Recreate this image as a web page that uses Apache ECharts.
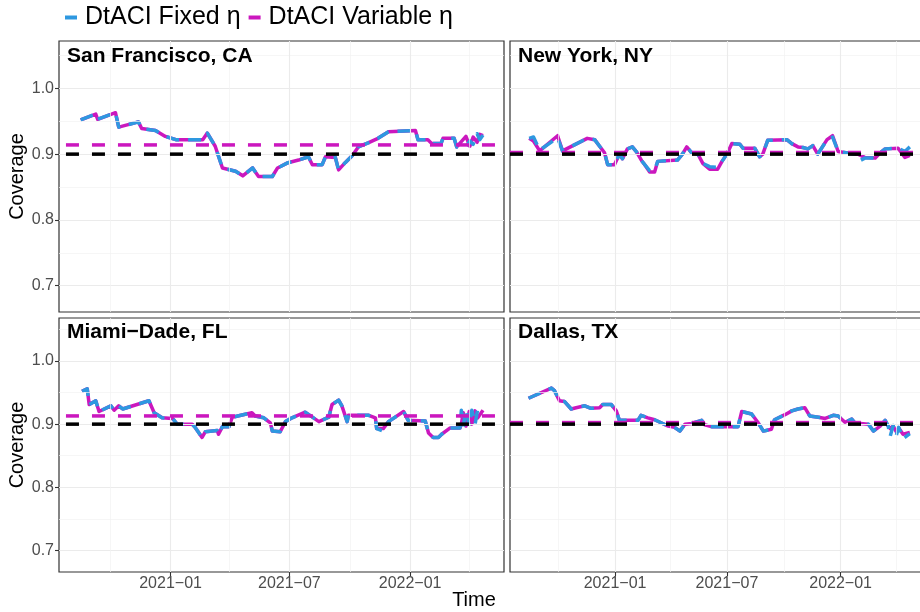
<!DOCTYPE html>
<html>
<head>
<meta charset="utf-8">
<script src="https://cdn.jsdelivr.net/npm/echarts@6/dist/echarts.min.js"></script>
<style>
html, body { margin: 0; padding: 0; background: #fff; }
#main { width: 920px; height: 612px; }
</style>
</head>
<body>
<div id="main"></div>
<script>
// panel data
var sfDates = ['2020-08-17','2020-09-09','2020-09-12','2020-10-09','2020-10-14','2020-11-13','2020-11-18','2020-12-09','2020-12-24','2021-01-09',
  '2021-02-19','2021-02-26','2021-03-10','2021-03-21','2021-04-10','2021-04-21','2021-05-06','2021-05-15','2021-06-05','2021-06-13',
  '2021-06-29','2021-07-15','2021-07-30','2021-08-05','2021-08-20','2021-08-25','2021-09-09','2021-09-14','2021-09-24','2021-10-05',
  '2021-10-14','2021-10-29','2021-11-13','2021-11-29','2022-01-09','2022-01-13','2022-01-28','2022-02-03','2022-02-17','2022-02-20',
  '2022-03-09','2022-03-13','2022-03-27','2022-04-02','2022-04-07','2022-04-13','2022-04-17','2022-04-22'];
var sfFixed = [0.952,0.961,0.953,0.963,0.941,0.949,0.939,0.936,0.927,0.922,
  0.922,0.932,0.912,0.879,0.874,0.867,0.879,0.866,0.866,0.879,
  0.887,0.891,0.896,0.884,0.884,0.896,0.895,0.876,0.887,0.898,
  0.911,0.917,0.924,0.934,0.936,0.922,0.922,0.916,0.916,0.924,
  0.924,0.911,0.911,0.920,0.915,0.931,0.922,0.929];
var sfVariable = [0.952,0.961,0.953,0.963,0.941,0.949,0.939,0.936,0.927,0.922,
  0.922,0.932,0.912,0.879,0.874,0.867,0.879,0.866,0.866,0.879,
  0.887,0.891,0.896,0.884,0.884,0.896,0.895,0.876,0.887,0.898,
  0.911,0.917,0.924,0.934,0.936,0.922,0.922,0.916,0.916,0.924,
  0.924,0.911,0.927,0.912,0.926,0.918,0.930,0.928];

var nyDates = ['2020-08-15','2020-08-22','2020-09-01','2020-09-30','2020-10-08','2020-11-17','2020-11-29','2020-12-07','2020-12-15','2020-12-20',
  '2020-12-31','2021-01-08','2021-01-13','2021-01-21','2021-01-29','2021-02-05','2021-02-13','2021-02-18','2021-02-26','2021-03-06',
  '2021-03-11','2021-04-12','2021-04-20','2021-04-27','2021-05-05','2021-05-15','2021-05-23','2021-06-03','2021-06-16','2021-06-23',
  '2021-07-01','2021-07-09','2021-07-22','2021-07-27','2021-08-15','2021-08-23','2021-08-28','2021-09-05','2021-10-06','2021-10-14',
  '2021-10-24','2021-11-01','2021-11-09','2021-11-17','2021-11-25','2021-12-10','2021-12-19','2021-12-28','2022-01-24','2022-01-29',
  '2022-02-01','2022-02-09','2022-02-26','2022-03-06','2022-03-14','2022-04-04','2022-04-15','2022-04-23'];
var nyFixed = [0.924,0.926,0.906,0.925,0.905,0.924,0.922,0.912,0.902,0.884,
  0.884,0.900,0.893,0.908,0.911,0.903,0.890,0.884,0.875,0.876,
  0.889,0.891,0.900,0.911,0.902,0.900,0.886,0.881,0.880,0.889,
  0.900,0.916,0.915,0.909,0.909,0.896,0.900,0.921,0.922,0.916,
  0.911,0.910,0.908,0.913,0.900,0.922,0.926,0.904,0.900,0.897,
  0.890,0.894,0.894,0.902,0.908,0.909,0.904,0.911];
var nyVariable = [0.924,0.920,0.905,0.928,0.905,0.924,0.922,0.912,0.902,0.884,
  0.884,0.900,0.893,0.908,0.911,0.903,0.890,0.884,0.873,0.873,
  0.889,0.891,0.900,0.911,0.902,0.900,0.886,0.877,0.877,0.889,
  0.900,0.916,0.915,0.909,0.909,0.896,0.900,0.921,0.922,0.916,
  0.911,0.910,0.908,0.913,0.900,0.922,0.928,0.904,0.900,0.900,
  0.900,0.895,0.894,0.902,0.908,0.909,0.895,0.898];

var miDates = ['2020-08-19','2020-08-27','2020-08-30','2020-09-09','2020-09-14','2020-10-02','2020-10-07','2020-10-14','2020-10-20','2020-11-29',
  '2020-12-07','2020-12-19','2021-01-04','2021-01-11','2021-02-03','2021-02-08','2021-02-18','2021-02-23','2021-03-13','2021-03-15',
  '2021-03-21','2021-03-31','2021-04-05','2021-05-05','2021-05-10','2021-05-23','2021-06-02','2021-06-05','2021-06-17','2021-06-25',
  '2021-07-05','2021-07-25','2021-08-15','2021-08-30','2021-09-04','2021-09-14','2021-09-19','2021-09-27','2021-09-29','2021-10-30',
  '2021-11-09','2021-11-11','2021-11-21','2021-11-29','2021-12-22','2021-12-29','2022-01-24','2022-01-29','2022-02-05','2022-02-13',
  '2022-02-18','2022-03-03','2022-03-18','2022-03-20','2022-03-23','2022-03-27','2022-04-01','2022-04-05','2022-04-10','2022-04-14',
  '2022-04-22'];
var miFixed = [0.952,0.956,0.931,0.937,0.920,0.929,0.922,0.929,0.924,0.937,
  0.918,0.910,0.909,0.900,0.900,0.894,0.879,0.888,0.890,0.884,
  0.896,0.896,0.911,0.918,0.913,0.910,0.902,0.889,0.888,0.904,
  0.910,0.919,0.904,0.911,0.931,0.938,0.929,0.904,0.914,0.914,
  0.910,0.893,0.889,0.904,0.920,0.906,0.905,0.886,0.879,0.879,
  0.884,0.894,0.894,0.922,0.896,0.924,0.897,0.922,0.900,0.924,
  0.921];
var miVariable = [0.952,0.956,0.931,0.937,0.920,0.929,0.922,0.929,0.924,0.937,
  0.918,0.910,0.909,0.900,0.900,0.894,0.879,0.888,0.890,0.884,
  0.896,0.896,0.911,0.918,0.913,0.910,0.902,0.889,0.888,0.904,
  0.910,0.919,0.904,0.911,0.931,0.938,0.929,0.904,0.914,0.914,
  0.910,0.893,0.893,0.904,0.920,0.906,0.905,0.886,0.879,0.879,
  0.884,0.894,0.894,0.900,0.918,0.897,0.920,0.900,0.921,0.910,
  0.922];

var dlDates = ['2020-08-14','2020-09-20','2020-09-25','2020-10-03','2020-10-11','2020-10-22','2020-10-30','2020-11-13','2020-11-23','2020-12-07',
  '2020-12-12','2020-12-26','2021-01-03','2021-01-08','2021-02-07','2021-02-12','2021-02-23','2021-03-06','2021-03-28','2021-04-07',
  '2021-04-16','2021-04-24','2021-05-05','2021-05-21','2021-05-26','2021-06-06','2021-07-19','2021-07-25','2021-08-10','2021-08-20',
  '2021-08-29','2021-09-11','2021-09-16','2021-10-03','2021-10-14','2021-10-24','2021-11-04','2021-11-12','2021-11-26','2021-12-07',
  '2021-12-20','2021-12-28','2022-01-08','2022-01-19','2022-01-24','2022-02-15','2022-02-23','2022-03-06','2022-03-14','2022-03-19',
  '2022-03-22','2022-03-27','2022-04-01','2022-04-05','2022-04-12','2022-04-23'];
var dlFixed = [0.941,0.957,0.953,0.937,0.936,0.924,0.926,0.929,0.925,0.926,
  0.931,0.931,0.921,0.906,0.906,0.914,0.910,0.907,0.897,0.895,
  0.889,0.900,0.901,0.906,0.899,0.896,0.896,0.920,0.916,0.903,
  0.889,0.892,0.907,0.915,0.921,0.924,0.926,0.913,0.911,0.909,
  0.914,0.913,0.903,0.908,0.902,0.900,0.889,0.897,0.906,0.897,
  0.880,0.898,0.882,0.895,0.877,0.885];
var dlVariable = [0.941,0.957,0.953,0.937,0.936,0.924,0.926,0.929,0.925,0.926,
  0.931,0.931,0.921,0.906,0.906,0.914,0.910,0.907,0.897,0.895,
  0.889,0.900,0.901,0.906,0.899,0.896,0.896,0.920,0.916,0.903,
  0.889,0.892,0.907,0.915,0.921,0.924,0.926,0.913,0.911,0.909,
  0.914,0.913,0.903,0.908,0.902,0.900,0.889,0.897,0.906,0.897,
  0.893,0.897,0.888,0.894,0.884,0.887];

var panelNames = ['San Francisco, CA', 'New York, NY', 'Miami\u2212Dade, FL', 'Dallas, TX'];
var targetLevel = 0.9;
var variableLevels = [0.914, 0.9025, 0.913, 0.9025];

var yTicks = [0.7, 0.8, 0.9, 1.0];
var yMinorTicks = [0.75, 0.85, 0.95, 1.05];
var xTicks = ['2021-01-01', '2021-07-01', '2022-01-01'];
var xTickLabels = ['2021-01', '2021-07', '2022-01'];
var xMinorTicks = ['2020-10-01', '2021-04-01', '2021-10-01', '2022-04-01'];

var seriesNames = ['DtACI Fixed \u03b7', 'DtACI Variable \u03b7'];
var BLUE = '#2e98e0';
var MAGENTA = '#cb17be';
var FONT = '"Liberation Sans", Arial, sans-serif';

var panels = [
  { dates: sfDates, fixed: sfFixed, variable: sfVariable },
  { dates: nyDates, fixed: nyFixed, variable: nyVariable },
  { dates: miDates, fixed: miFixed, variable: miVariable },
  { dates: dlDates, fixed: dlFixed, variable: dlVariable }
];

// dates -> ms, x axes are plain value axes over timestamps
function ts(s) {
  var p = s.split('-');
  return Date.UTC(+p[0], +p[1] - 1, +p[2]);
}
var xMin = ts('2020-07-15');
var xMax = ts('2022-05-24');
var hStart = ts('2020-06-16');
var xTickValues = xTicks.map(ts);

var grids = [
  { left: 59, top: 41, width: 445, height: 271 },
  { left: 510, top: 41, width: 419, height: 271 },
  { left: 59, top: 318, width: 445, height: 254 },
  { left: 510, top: 318, width: 419, height: 254 }
];
var yRanges = [[0.66, 1.072], [0.66, 1.072], [0.666, 1.068], [0.666, 1.068]];

function pairs(dates, values) {
  var out = [];
  for (var i = 0; i < dates.length; i++) out.push([ts(dates[i]), values[i]]);
  return out;
}

var myChart = echarts.init(document.getElementById('main'));

var gridList = [], xAxes = [], yAxes = [], series = [], graphics = [];

grids.forEach(function (g, i) {
  var isLeft = i % 2 === 0;
  var isBottom = i >= 2;
  gridList.push({
    left: g.left, top: g.top, width: g.width, height: g.height,
    show: true, borderColor: '#333333', borderWidth: 1.2,
    backgroundColor: 'transparent', containLabel: false, outerBoundsMode: 'none'
  });
  xAxes.push({
    type: 'value', gridIndex: i, min: xMin, max: xMax, scale: true,
    axisLine: { show: false },
    splitLine: { show: false },
    axisTick: { show: isBottom, customValues: xTickValues, length: 4, lineStyle: { color: '#333333', width: 1.1 } },
    axisLabel: {
      show: isBottom, customValues: xTickValues, color: '#4d4d4d', fontSize: 16, margin: 4, fontFamily: FONT,
      formatter: function (value) {
        var k = xTickValues.indexOf(value);
        return k < 0 ? '' : xTickLabels[k].replace('-', '\u2212');
      }
    }
  });
  yAxes.push({
    type: 'value', gridIndex: i, min: yRanges[i][0], max: yRanges[i][1],
    axisLine: { show: false },
    splitLine: { show: false },
    axisTick: { show: isLeft, customValues: yTicks, length: 4, lineStyle: { color: '#333333', width: 1.1 } },
    axisLabel: {
      show: isLeft, customValues: yTicks, color: '#4d4d4d', fontSize: 16, margin: 5, fontFamily: FONT,
      formatter: function (v) { return v.toFixed(1); }
    },
    name: isLeft ? 'Coverage' : '',
    nameLocation: 'middle', nameGap: 24,
    nameTextStyle: { fontSize: 20, color: '#000', fontFamily: FONT }
  });

  // background grid lines
  var gl = [];
  yTicks.forEach(function (v) { gl.push({ yAxis: v, lineStyle: { color: '#ebebeb', width: 1.1, type: 'solid' } }); });
  yMinorTicks.forEach(function (v) { gl.push({ yAxis: v, lineStyle: { color: '#f2f2f2', width: 0.7, type: 'solid' } }); });
  xTicks.forEach(function (v) { gl.push({ xAxis: ts(v), lineStyle: { color: '#ebebeb', width: 1.1, type: 'solid' } }); });
  xMinorTicks.forEach(function (v) { gl.push({ xAxis: ts(v), lineStyle: { color: '#f2f2f2', width: 0.7, type: 'solid' } }); });
  series.push({
    type: 'line', xAxisIndex: i, yAxisIndex: i, data: [], silent: true, z: 1,
    markLine: { silent: true, symbol: ['none', 'none'], label: { show: false }, animation: false, data: gl }
  });

  var p = panels[i];
  series.push({
    name: seriesNames[1], type: 'line', xAxisIndex: i, yAxisIndex: i,
    data: pairs(p.dates, p.variable), showSymbol: false, symbol: 'none', z: 3,
    itemStyle: { color: MAGENTA },
    lineStyle: { color: MAGENTA, width: 3.5, cap: 'butt', join: 'round' }
  });
  series.push({
    name: seriesNames[0], type: 'line', xAxisIndex: i, yAxisIndex: i,
    data: pairs(p.dates, p.fixed), showSymbol: false, symbol: 'none', z: 4,
    itemStyle: { color: BLUE },
    lineStyle: { color: BLUE, width: 3.5, type: [13, 9], cap: 'butt', join: 'round' }
  });

  var hFrom = isLeft ? hStart : xMin;
  series.push({
    type: 'line', xAxisIndex: i, yAxisIndex: i, silent: true, clip: false, z: 5,
    data: [[hFrom, variableLevels[i]], [xMax, variableLevels[i]]], showSymbol: false, symbol: 'none',
    lineStyle: { color: MAGENTA, width: 3.5, type: [13, 13], cap: 'butt' }
  });
  series.push({
    type: 'line', xAxisIndex: i, yAxisIndex: i, silent: true, clip: false, z: 6,
    data: [[hFrom, targetLevel], [xMax, targetLevel]], showSymbol: false, symbol: 'none',
    lineStyle: { color: '#000000', width: 3.5, type: [13, 13], cap: 'butt' }
  });

  graphics.push({
    type: 'text', x: g.left + 8, y: g.top + (isBottom ? 14 : 15), z: 100,
    style: { text: panelNames[i], fill: '#000', fontSize: 21, fontWeight: 'bold', fontFamily: FONT, verticalAlign: 'middle' }
  });
});

graphics.push({
  type: 'text', x: 474, y: 600, z: 100,
  style: { text: 'Time', fill: '#000', fontSize: 20, fontFamily: FONT, align: 'center', verticalAlign: 'middle' }
});

var option = {
  animation: false,
  backgroundColor: '#ffffff',
  legend: {
    left: 65, top: 5, padding: 0, icon: 'rect', itemWidth: 12, itemHeight: 4, itemGap: 8, selectedMode: false,
    textStyle: { fontSize: 25, color: '#000', fontFamily: FONT, padding: [0, 0, 0, 3] },
    data: [
      { name: seriesNames[0], itemStyle: { color: BLUE } },
      { name: seriesNames[1], itemStyle: { color: MAGENTA } }
    ]
  },
  grid: gridList,
  xAxis: xAxes,
  yAxis: yAxes,
  series: series,
  graphic: graphics
};
myChart.setOption(option);
</script>
</body>
</html>
